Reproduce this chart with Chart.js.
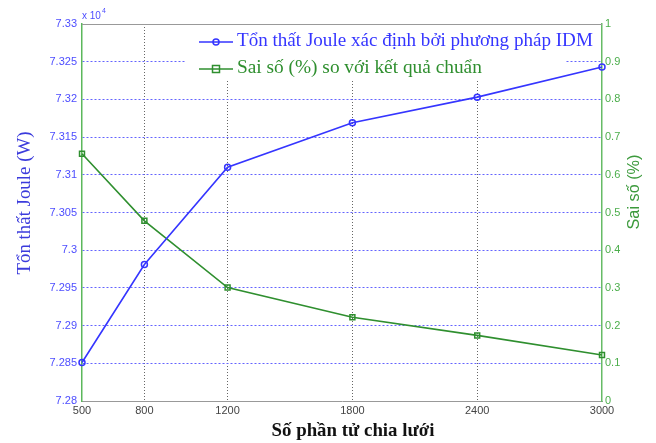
<!DOCTYPE html>
<html>
<head>
<meta charset="utf-8">
<script src="https://cdn.jsdelivr.net/npm/chart.js@4.4.0/dist/chart.umd.min.js"></script>
<style>
html, body { margin: 0; padding: 0; background: #fff; }
</style>
</head>
<body>
<canvas id="myChart" width="656" height="443"></canvas>
<script>
// data
const elements = [500, 800, 1200, 1800, 2400, 3000];
const jouleLoss = [7.2851, 7.2981, 7.3110, 7.3169, 7.3203, 7.3243]; // x 10^4 W
const errorPct = [0.656, 0.478, 0.301, 0.222, 0.174, 0.122];
const xTicks = [500, 800, 1200, 1800, 2400, 3000];
const leftRange = [7.28, 7.33];
const leftStep = 0.005;
const rightRange = [0, 1];
const rightStep = 0.1;

const legendTexts = ['Tổn thất Joule xác định bởi phương pháp IDM', 'Sai số (%) so với kết quả chuẩn'];
const xTitle = 'Số phần tử chia lưới';
const leftTitle = 'Tổn thất Joule (W)';
const rightTitle = 'Sai số (%)';

const BLUE = '#3535ff';
const GREEN = '#2f8f2f';

function fitFont(ctx, text, style, family, width) {
  ctx.font = style + ' 20px ' + family;
  const w = ctx.measureText(text).width;
  const size = 20 * width / w;
  ctx.font = style + ' ' + size.toFixed(2) + 'px ' + family;
}

const decor = {
  id: 'decor',
  beforeDatasetsDraw(chart) {
    // legend background hides the grid, not the lines
    const ctx = chart.ctx;
    const a = chart.chartArea;
    ctx.save();
    ctx.fillStyle = '#fff';
    ctx.fillRect(186, a.top + 1, 380, 56);
    ctx.restore();
  },
  afterDraw(chart) {
    const ctx = chart.ctx;
    const a = chart.chartArea;
    ctx.save();
    // top box edge
    ctx.strokeStyle = '#999';
    ctx.lineWidth = 1;
    ctx.beginPath();
    ctx.moveTo(a.left, a.top + 0.5);
    ctx.lineTo(a.right, a.top + 0.5);
    ctx.stroke();

    // exponent
    ctx.fillStyle = '#4d4dff';
    ctx.font = '10px "Liberation Sans"';
    ctx.textBaseline = 'alphabetic';
    ctx.textAlign = 'left';
    ctx.fillText('x 10', 82, 19);
    const ew = ctx.measureText('x 10').width;
    ctx.font = '7px "Liberation Sans"';
    ctx.fillText('4', 82 + ew + 1, 13);

    // legend
    const rows = [
      { y: 42, color: BLUE, marker: 'circle', text: legendTexts[0], w: 356 },
      { y: 69, color: GREEN, marker: 'rect', text: legendTexts[1], w: 245 }
    ];
    rows.forEach(r => {
      ctx.strokeStyle = r.color;
      ctx.lineWidth = 1.6;
      ctx.beginPath();
      ctx.moveTo(199, r.y);
      ctx.lineTo(233, r.y);
      ctx.stroke();
      ctx.lineWidth = 1.5;
      ctx.beginPath();
      if (r.marker === 'circle') ctx.arc(216, r.y, 3, 0, Math.PI * 2);
      else ctx.rect(212.5, r.y - 3.5, 7, 7);
      ctx.stroke();
      ctx.fillStyle = r.color;
      fitFont(ctx, r.text, '', '"Liberation Serif"', r.w);
      ctx.textAlign = 'left';
      ctx.textBaseline = 'alphabetic';
      ctx.fillText(r.text, 237, r.y + 4);
    });

    // axis titles
    ctx.textAlign = 'center';
    ctx.textBaseline = 'middle';
    ctx.fillStyle = '#111';
    fitFont(ctx, xTitle, 'bold', '"Liberation Serif"', 163);
    ctx.fillText(xTitle, 353, 431);

    ctx.save();
    ctx.translate(25, 203);
    ctx.rotate(-Math.PI / 2);
    ctx.fillStyle = '#3b3bdc';
    fitFont(ctx, leftTitle, '', '"Liberation Serif"', 143);
    ctx.fillText(leftTitle, 0, 0);
    ctx.restore();

    ctx.save();
    ctx.translate(635, 192);
    ctx.rotate(-Math.PI / 2);
    ctx.fillStyle = '#3c9a3c';
    fitFont(ctx, rightTitle, '', '"Liberation Sans"', 75);
    ctx.fillText(rightTitle, 0, 0);
    ctx.restore();

    ctx.restore();
  }
};

const ctx = document.getElementById('myChart').getContext('2d');
const chart = new Chart(ctx, {
  type: 'line',
  data: {
    datasets: [{
      label: legendTexts[0],
      data: elements.map((x, i) => ({ x: x, y: jouleLoss[i] })),
      yAxisID: 'y',
      borderColor: BLUE,
      borderWidth: 1.6,
      pointStyle: 'circle',
      pointRadius: 3,
      pointBorderWidth: 1.5,
      pointBorderColor: BLUE,
      pointBackgroundColor: 'rgba(0,0,0,0)',
      tension: 0,
      clip: false
    },
    {
      label: legendTexts[1],
      data: elements.map((x, i) => ({ x: x, y: errorPct[i] })),
      yAxisID: 'y1',
      borderColor: GREEN,
      borderWidth: 1.6,
      pointStyle: 'rect',
      pointRadius: 3.5,
      pointBorderWidth: 1.5,
      pointBorderColor: GREEN,
      pointBackgroundColor: 'rgba(0,0,0,0)',
      tension: 0,
      clip: false
    }]
  },
  options: {
    responsive: false,
    animation: false,
    devicePixelRatio: 1,
    layout: { padding: { top: 24, left: 0, right: 0, bottom: 0 } },
    plugins: { legend: { display: false }, tooltip: { enabled: false } },
    scales: {
      x: {
        type: 'linear',
        min: elements[0],
        max: elements[elements.length - 1],
        afterBuildTicks: s => { s.ticks = xTicks.map(v => ({ value: v })); },
        afterFit: s => { s.height = 42; },
        grid: {
          color: c => (c.index === 0 || c.index === xTicks.length - 1) ? 'rgba(0,0,0,0)' : '#666',
          lineWidth: 1,
          drawTicks: false
        },
        border: { color: '#999', width: 1, dash: [1, 2] },
        ticks: {
          color: '#444',
          font: { family: 'Liberation Sans', size: 11 },
          padding: 3,
          maxRotation: 0,
          autoSkip: false,
          callback: v => String(v)
        }
      },
      y: {
        position: 'left',
        min: leftRange[0],
        max: leftRange[1],
        afterFit: s => { s.width = 82; },
        grid: {
          color: c => (c.index === 0 || c.index === c.scale.ticks.length - 1) ? 'rgba(0,0,0,0)' : '#6464ff',
          lineWidth: 1,
          drawTicks: false
        },
        border: { color: '#5cb85c', width: 1.5, dash: [2, 2] },
        ticks: {
          stepSize: leftStep,
          color: '#4d4dff',
          font: { family: 'Liberation Sans', size: 11 },
          padding: 5,
          callback: v => String(+v.toFixed(3))
        }
      },
      y1: {
        position: 'right',
        min: rightRange[0],
        max: rightRange[1],
        afterFit: s => { s.width = 54; },
        grid: { drawOnChartArea: false, drawTicks: false },
        border: { color: '#66bb66', width: 1.5 },
        ticks: {
          stepSize: rightStep,
          color: '#4cae4c',
          font: { family: 'Liberation Sans', size: 11 },
          padding: 3,
          callback: v => String(+v.toFixed(1))
        }
      }
    }
  },
  plugins: [decor]
});
</script>
</body>
</html>
